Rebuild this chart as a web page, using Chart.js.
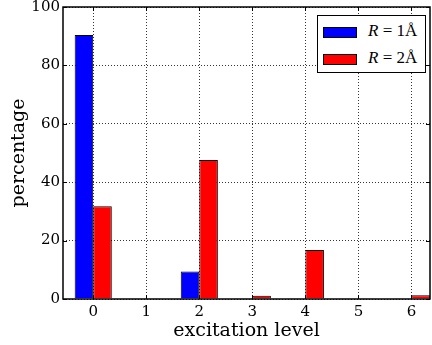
<!DOCTYPE html>
<html lang="en">
<head>
<meta charset="UTF-8">
<title>excitation level</title>
<script src="https://cdn.jsdelivr.net/npm/chart.js"></script>
<style>
    body { margin: 0; background: #fff; }
    #wrap { position: relative; width: 432px; height: 345px; }
    #legend { position: absolute; left: 317px; top: 15px; width: 107px; height: 56px; border: 1px solid #000; background: #fff;
              font-family: "Liberation Serif", serif; font-size: 17px; color: #000; }
    .row { position: absolute; left: 0; height: 14px; }
    .sw { position: absolute; left: 5px; width: 32px; height: 9px; border: 1px solid #000; }
    .lab { position: absolute; left: 50px; top: -6px; white-space: nowrap; }
</style>
</head>
<body>
<div id="wrap">
    <canvas id="c" width="432" height="345"></canvas>
    <div id="legend">
        <div class="row" style="top:11px"><div class="sw" style="background:#0000ff"></div><div class="lab"><i>R</i> = 1Å</div></div>
        <div class="row" style="top:38px"><div class="sw" style="background:#ff0000"></div><div class="lab"><i>R</i> = 2Å</div></div>
    </div>
</div>
<script>
const levels = [0, 1, 2, 3, 4, 5, 6];
const r1 = [90.4, 0.1, 9.4, 0.1, 0.1, 0.1, 0.1];
const r2 = [31.8, 0.1, 47.6, 1.1, 16.8, 0.1, 1.3];
const yTicks = [0, 20, 40, 60, 80, 100];

const font = { family: 'DejaVu Serif', size: 15 };

// matplotlib-like frame with inward ticks
const frame = {
    id: 'frame',
    afterDatasetsDraw(chart) {
        const { ctx, chartArea: a, scales } = chart;
        ctx.save();
        ctx.strokeStyle = '#000';
        ctx.lineWidth = 1;
        levels.forEach(v => {
            const x = Math.round(scales.x.getPixelForValue(v)) + 0.5;
            ctx.beginPath();
            ctx.moveTo(x, a.bottom); ctx.lineTo(x, a.bottom - 4);
            ctx.moveTo(x, a.top); ctx.lineTo(x, a.top + 4);
            ctx.stroke();
        });
        yTicks.forEach(v => {
            const y = Math.round(scales.y.getPixelForValue(v)) + 0.5;
            ctx.beginPath();
            ctx.moveTo(a.left, y); ctx.lineTo(a.left + 4, y);
            ctx.moveTo(a.right, y); ctx.lineTo(a.right - 4, y);
            ctx.stroke();
        });
        ctx.lineWidth = 1.5;
        ctx.strokeRect(a.left, a.top, a.right - a.left, a.bottom - a.top);
        ctx.restore();
    }
};

new Chart(document.getElementById('c'), {
    type: 'bar',
    data: {
        datasets: [
            { label: 'R = 1Å', data: levels.map((l, i) => ({ x: l, y: r1[i] })), backgroundColor: '#0000ff', borderColor: '#000', borderWidth: 1 },
            { label: 'R = 2Å', data: levels.map((l, i) => ({ x: l, y: r2[i] })), backgroundColor: '#ff0000', borderColor: '#000', borderWidth: 1 }
        ]
    },
    options: {
        responsive: false,
        animation: false,
        categoryPercentage: 0.7,
        barPercentage: 1,
        layout: { padding: { left: 0, right: 2, top: 7, bottom: 0 } },
        plugins: { legend: { display: false }, tooltip: { enabled: false } },
        scales: {
            x: {
                type: 'linear',
                offset: false,
                min: -0.57,
                max: 6.35,
                afterBuildTicks: axis => { axis.ticks = levels.map(v => ({ value: v })); },
                afterFit: s => { s.height = 46; s.paddingLeft = 0; s.paddingRight = 0; },
                ticks: { font, color: '#000', padding: 4, maxRotation: 0 },
                grid: { offset: false, color: '#000', lineWidth: 0.8, drawTicks: false },
                border: { display: false, dash: [1, 2] },
                title: { display: true, text: 'excitation level', font: { family: 'DejaVu Serif', size: 19 }, color: '#000', padding: { top: 0, bottom: 3 } }
            },
            y: {
                min: 0,
                max: 100,
                afterBuildTicks: axis => { axis.ticks = yTicks.map(v => ({ value: v })); },
                afterFit: s => { s.width = 63; s.paddingTop = 0; s.paddingBottom = 0; },
                ticks: { font, color: '#000', padding: 3 },
                grid: { color: '#000', lineWidth: 0.8, drawTicks: false },
                border: { display: false, dash: [1, 2] },
                title: { display: true, text: 'percentage', font: { family: 'DejaVu Serif', size: 19 }, color: '#000', padding: { top: 8, bottom: 0 } }
            }
        }
    },
    plugins: [frame]
});
</script>
</body>
</html>
